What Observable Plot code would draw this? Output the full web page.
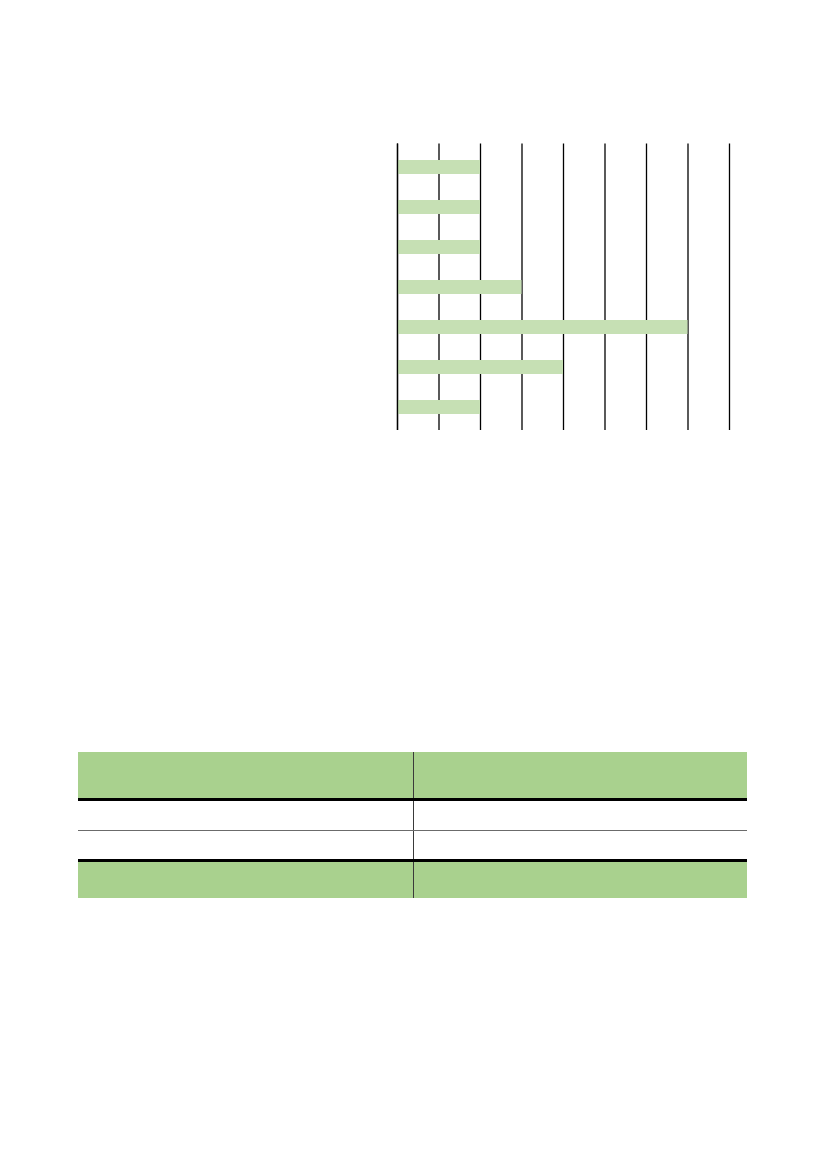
<!DOCTYPE html>
<html>
<head>
<meta charset="utf-8">
<script src="https://cdn.jsdelivr.net/npm/d3@7"></script>
<script src="https://cdn.jsdelivr.net/npm/@observablehq/plot@0.6"></script>
<style>
  html, body { margin: 0; padding: 0; background: #fff; }
  body { width: 827px; height: 1169px; position: relative; overflow: hidden; font-family: "Liberation Sans", Arial, sans-serif; }
  #chart { position: absolute; left: 0; top: 0; }
  #table { position: absolute; left: 78px; top: 752px; width: 669px; border-collapse: collapse; table-layout: fixed; }
  #table td { padding: 0; border-left: 1px solid #3a3a3a; }
  #table td:first-child { border-left: none; width: 335px; }
  #table tr.head td { background: #a9d18e; height: 46px; border-bottom: 3px solid #000; }
  #table tr.r1 td { height: 29px; border-bottom: 1px solid #6b6b6b; }
  #table tr.r2 td { height: 28px; border-bottom: 3px solid #000; }
  #table tr.foot td { background: #a9d18e; height: 36px; }
</style>
</head>
<body>
<div id="chart"></div>
<table id="table">
  <tr class="head"><td></td><td></td></tr>
  <tr class="r1"><td></td><td></td></tr>
  <tr class="r2"><td></td><td></td></tr>
  <tr class="foot"><td></td><td></td></tr>
</table>
<script>
const categories = ["C1", "C2", "C3", "C4", "C5", "C6", "C7"];
const values = [2, 2, 2, 3, 7, 4, 2];
const gridTicks = [0, 1, 2, 3, 4, 5, 6, 7, 8];

const data = categories.map((c, i) => ({category: c, value: values[i]}));

const chart = Plot.plot({
  width: 827,
  height: 460,
  marginLeft: 397,
  marginRight: 98,
  marginTop: 143.5,
  marginBottom: 30,
  x: {domain: [0, 8], axis: null},
  y: {domain: categories, axis: null, paddingInner: 0.65, paddingOuter: 0.325},
  marks: [
    Plot.ruleX(gridTicks, {stroke: "#000", strokeWidth: 1.3}),
    Plot.barX(data, {x: "value", y: "category", fill: "#c6e0b4", insetLeft: 1}),
    Plot.ruleX([0], {stroke: "#000", strokeWidth: 1.3})
  ]
});
document.getElementById("chart").appendChild(chart);
</script>
</body>
</html>
